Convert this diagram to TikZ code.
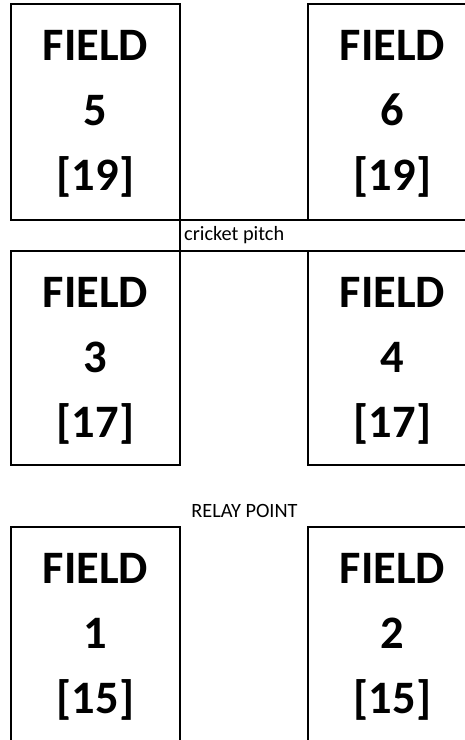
\documentclass[tikz,border=0pt]{standalone}
\usepackage{fontspec}
\setmainfont{Carlito}
\begin{document}
\begin{tikzpicture}[x=1pt,y=-1pt,line width=1.4pt,
    fieldtext/.style={font=\fontsize{46.5}{46.5}\selectfont\bfseries, inner sep=0pt},
    smalltext/.style={font=\fontsize{20.3}{20.3}\selectfont, inner sep=0pt}]
    \clip (0,0) rectangle (465,740);
    \fill[white] (0,0) rectangle (465,740);
    % top row and the pitch strip
    \draw (11,4) rectangle (180,220);
    \draw (308,4) rectangle (477,220);
    \draw (11,220) -- (470,220);
    \draw (180,220) -- (180,251);
    \draw (11,251) -- (470,251);
    % middle row
    \draw (11,251) rectangle (180,465);
    \draw (308,251) rectangle (477,465);
    % bottom row
    \draw (11,527) rectangle (180,760);
    \draw (308,527) rectangle (477,760);
    \node[smalltext, anchor=base west] (pitch) at (183.5,240) {cricket pitch};
    \node[smalltext, anchor=base] (relay) at (244.5,517) {RELAY POINT};
    \foreach \fid/\cx/\ty/\teams in {5/95.5/4/19, 6/392.5/4/19, 3/95.5/251/17,
        4/392.5/251/17, 1/95.5/527/15, 2/392.5/527/15} {
        \node[fieldtext, anchor=base] (title\fid) at (\cx,\ty+56) {FIELD};
        \node[fieldtext, anchor=base] (num\fid) at (\cx,\ty+121) {\fid};
        \node[fieldtext, anchor=base] (teams\fid) at (\cx,\ty+186) {[\teams]};
    }
\end{tikzpicture}
\end{document}
